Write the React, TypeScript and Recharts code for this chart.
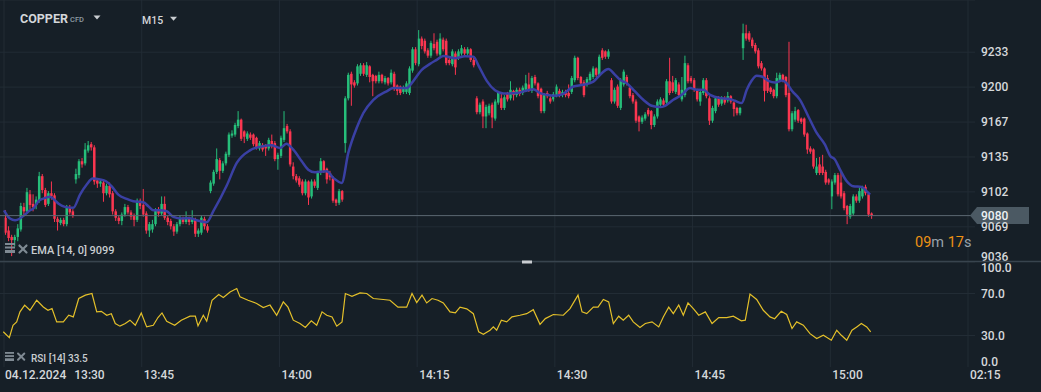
import React from 'react';
import { ComposedChart, LineChart, Bar, Line, XAxis, YAxis, CartesianGrid, ReferenceLine } from 'recharts';

// ---------- data ----------
const candleSeconds = 20; // one candle every 20 s, first candle starts 13:30:00
// [open, high, low, close]
const candles1: number[][] = [
  [9078, 9085, 9062, 9064], [9066, 9070, 9056, 9059], [9060, 9062, 9042, 9057], [9057, 9062, 9051, 9060],
  [9060, 9072, 9056, 9068], [9067, 9092, 9065, 9089], [9088, 9092, 9080, 9084], [9084, 9106, 9082, 9102],
  [9100, 9104, 9086, 9090], [9091, 9100, 9084, 9088], [9090, 9098, 9086, 9095], [9094, 9121, 9092, 9117],
  [9117, 9119, 9101, 9104], [9104, 9106, 9088, 9090], [9091, 9103, 9089, 9101], [9101, 9112, 9095, 9098],
  [9099, 9101, 9074, 9077], [9077, 9079, 9066, 9074], [9073, 9078, 9071, 9076], [9076, 9078, 9070, 9072],
  [9072, 9090, 9070, 9088], [9088, 9090, 9081, 9083], [9084, 9086, 9078, 9080],
];
const candles2: number[][] = [
  [9114, 9124, 9110, 9119], [9118, 9133, 9115, 9131], [9131, 9134, 9125, 9128], [9129, 9148, 9127, 9142],
  [9141, 9150, 9139, 9146], [9147, 9149, 9141, 9144], [9144, 9146, 9109, 9112], [9113, 9115, 9106, 9110],
  [9110, 9114, 9107, 9112], [9111, 9113, 9093, 9101], [9101, 9110, 9099, 9108], [9108, 9111, 9097, 9100],
  [9101, 9103, 9081, 9084], [9084, 9086, 9075, 9078], [9078, 9080, 9072, 9075], [9075, 9083, 9071, 9081],
  [9081, 9091, 9079, 9088], [9088, 9090, 9081, 9083], [9083, 9085, 9076, 9079], [9080, 9082, 9070, 9076],
  [9076, 9096, 9074, 9094], [9094, 9096, 9086, 9089], [9090, 9105, 9079, 9081], [9082, 9084, 9063, 9066],
  [9066, 9074, 9060, 9072], [9067, 9076, 9064, 9072], [9072, 9087, 9070, 9085], [9085, 9088, 9079, 9082],
  [9082, 9098, 9080, 9091], [9091, 9098, 9076, 9078], [9078, 9080, 9071, 9074], [9075, 9077, 9067, 9070],
  [9070, 9072, 9061, 9065], [9065, 9074, 9063, 9072], [9072, 9080, 9070, 9078], [9077, 9079, 9072, 9074],
  [9074, 9084, 9072, 9077], [9077, 9079, 9071, 9074], [9074, 9085, 9072, 9077], [9076, 9078, 9060, 9063],
  [9063, 9068, 9060, 9066], [9064, 9080, 9062, 9078], [9077, 9079, 9067, 9070], [9070, 9072, 9064, 9066],
];
const candles3: number[][] = [
  [9103, 9113, 9101, 9111], [9110, 9123, 9108, 9121], [9121, 9143, 9119, 9133], [9132, 9134, 9114, 9122],
  [9122, 9131, 9120, 9129], [9129, 9140, 9127, 9138], [9137, 9158, 9135, 9156], [9155, 9160, 9153, 9157],
  [9156, 9167, 9154, 9165], [9164, 9178, 9162, 9170], [9170, 9171, 9150, 9152], [9159, 9160, 9148, 9154],
  [9152, 9159, 9150, 9157], [9156, 9158, 9151, 9153], [9156, 9157, 9145, 9147], [9153, 9154, 9142, 9144],
  [9143, 9150, 9141, 9148], [9146, 9148, 9140, 9142], [9146, 9147, 9136, 9143], [9143, 9153, 9141, 9151],
  [9150, 9156, 9143, 9145], [9148, 9150, 9131, 9133], [9133, 9139, 9123, 9137], [9136, 9155, 9134, 9153],
  [9151, 9178, 9149, 9162], [9164, 9166, 9157, 9159], [9159, 9161, 9126, 9128], [9126, 9130, 9114, 9117],
  [9117, 9119, 9111, 9113], [9115, 9117, 9107, 9109], [9112, 9114, 9099, 9101], [9101, 9114, 9099, 9112],
  [9112, 9113, 9090, 9097], [9098, 9114, 9096, 9112], [9112, 9114, 9106, 9108], [9106, 9122, 9104, 9120],
  [9120, 9134, 9118, 9131], [9131, 9132, 9120, 9122], [9124, 9125, 9110, 9114], [9120, 9122, 9113, 9116],
  [9115, 9117, 9092, 9094], [9095, 9096, 9089, 9092], [9092, 9105, 9090, 9103], [9103, 9104, 9093, 9095],
];
const candles4: number[][] = [
  [9148, 9192, 9139, 9190], [9190, 9214, 9188, 9212], [9213, 9215, 9183, 9203], [9205, 9207, 9200, 9202],
  [9204, 9222, 9202, 9220], [9213, 9223, 9211, 9221], [9221, 9223, 9211, 9213], [9212, 9224, 9210, 9221],
  [9220, 9221, 9205, 9210], [9212, 9213, 9192, 9206], [9211, 9212, 9204, 9206], [9206, 9215, 9204, 9212],
  [9212, 9213, 9204, 9206], [9205, 9211, 9203, 9209], [9209, 9210, 9202, 9204], [9205, 9217, 9203, 9214],
  [9213, 9215, 9197, 9199], [9202, 9203, 9193, 9197], [9201, 9202, 9193, 9195], [9196, 9202, 9194, 9200],
  [9196, 9206, 9194, 9204], [9195, 9220, 9193, 9218], [9216, 9238, 9214, 9236], [9236, 9238, 9221, 9223],
  [9222, 9254, 9220, 9246], [9246, 9248, 9236, 9239], [9244, 9246, 9232, 9234], [9235, 9237, 9228, 9230],
  [9230, 9244, 9228, 9242], [9241, 9251, 9235, 9237], [9243, 9245, 9230, 9232], [9231, 9251, 9229, 9246],
  [9245, 9247, 9234, 9236], [9244, 9246, 9221, 9223], [9226, 9228, 9221, 9223], [9222, 9236, 9220, 9234],
  [9232, 9234, 9212, 9219], [9228, 9236, 9226, 9234], [9232, 9240, 9230, 9237], [9236, 9238, 9230, 9232],
  [9232, 9238, 9230, 9236], [9236, 9237, 9224, 9226], [9226, 9228, 9219, 9221],
];
const candles5: number[][] = [
  [9190, 9192, 9175, 9177], [9177, 9186, 9175, 9184], [9187, 9189, 9162, 9173], [9173, 9184, 9162, 9182],
  [9176, 9185, 9174, 9183], [9184, 9186, 9162, 9172], [9171, 9189, 9169, 9187], [9186, 9197, 9184, 9195],
  [9190, 9194, 9179, 9181], [9181, 9193, 9179, 9191], [9195, 9196, 9187, 9189], [9190, 9206, 9188, 9198],
  [9197, 9198, 9188, 9193], [9193, 9200, 9191, 9198], [9198, 9200, 9192, 9194], [9195, 9202, 9193, 9200],
  [9198, 9212, 9196, 9204], [9203, 9214, 9196, 9198], [9197, 9211, 9195, 9209], [9210, 9212, 9202, 9204],
  [9204, 9205, 9190, 9192], [9199, 9200, 9176, 9178], [9178, 9195, 9176, 9193], [9195, 9197, 9190, 9192],
  [9190, 9192, 9185, 9187], [9189, 9196, 9187, 9194], [9193, 9203, 9191, 9201], [9197, 9199, 9191, 9193],
  [9193, 9198, 9191, 9196], [9196, 9198, 9191, 9193], [9195, 9203, 9190, 9192], [9196, 9211, 9194, 9209],
  [9207, 9230, 9205, 9228], [9228, 9229, 9207, 9209], [9210, 9211, 9202, 9204], [9205, 9207, 9191, 9193],
  [9203, 9210, 9201, 9208], [9207, 9215, 9205, 9213], [9210, 9220, 9208, 9218], [9218, 9219, 9210, 9212],
  [9212, 9231, 9210, 9229], [9235, 9237, 9226, 9228], [9234, 9235, 9227, 9229], [9229, 9236, 9227, 9234],
];
const candles6: number[][] = [
  [9207, 9209, 9185, 9187], [9187, 9200, 9185, 9198], [9201, 9203, 9181, 9183], [9181, 9209, 9179, 9207],
  [9203, 9217, 9201, 9215], [9210, 9212, 9202, 9204], [9200, 9201, 9190, 9192], [9193, 9195, 9185, 9187],
  [9187, 9189, 9167, 9169], [9173, 9174, 9159, 9168], [9168, 9174, 9166, 9172], [9171, 9177, 9169, 9175],
  [9179, 9181, 9173, 9175], [9178, 9179, 9161, 9165], [9165, 9175, 9163, 9173], [9173, 9189, 9171, 9187],
  [9184, 9191, 9182, 9189], [9188, 9190, 9182, 9184], [9186, 9208, 9184, 9206], [9206, 9228, 9193, 9195],
  [9205, 9211, 9195, 9197], [9196, 9209, 9194, 9207], [9203, 9205, 9191, 9193], [9189, 9210, 9187, 9198],
  [9193, 9230, 9191, 9223], [9221, 9223, 9204, 9206], [9209, 9211, 9204, 9206], [9207, 9209, 9196, 9198],
  [9198, 9199, 9187, 9189], [9187, 9198, 9183, 9196], [9195, 9209, 9193, 9207], [9207, 9209, 9190, 9192],
  [9190, 9192, 9165, 9169], [9169, 9183, 9167, 9181], [9178, 9192, 9176, 9190], [9190, 9192, 9182, 9184],
  [9185, 9192, 9183, 9190], [9190, 9192, 9184, 9186], [9188, 9196, 9186, 9192], [9192, 9193, 9185, 9187],
  [9186, 9187, 9173, 9180], [9181, 9182, 9174, 9176], [9176, 9182, 9174, 9181],
];
const candles7: number[][] = [
  [9237, 9260, 9226, 9251], [9251, 9259, 9244, 9246], [9251, 9253, 9243, 9245], [9245, 9247, 9237, 9239],
  [9240, 9242, 9232, 9234], [9235, 9237, 9218, 9220], [9223, 9225, 9216, 9218], [9218, 9219, 9187, 9197],
  [9209, 9212, 9195, 9197], [9200, 9201, 9194, 9196], [9198, 9199, 9190, 9192], [9192, 9214, 9190, 9209],
  [9207, 9214, 9205, 9212], [9212, 9213, 9205, 9207], [9210, 9211, 9191, 9193], [9195, 9243, 9159, 9161],
  [9161, 9178, 9159, 9176], [9170, 9182, 9168, 9178], [9179, 9180, 9167, 9169], [9171, 9172, 9166, 9168],
  [9171, 9172, 9154, 9156], [9157, 9158, 9138, 9142], [9143, 9145, 9138, 9140], [9142, 9143, 9124, 9126],
  [9120, 9134, 9118, 9126], [9128, 9135, 9118, 9120], [9126, 9137, 9118, 9120], [9121, 9123, 9109, 9111],
  [9114, 9115, 9109, 9111], [9098, 9114, 9086, 9112], [9111, 9120, 9109, 9118], [9118, 9120, 9098, 9100],
  [9111, 9121, 9096, 9098], [9101, 9103, 9085, 9087], [9089, 9090, 9072, 9081], [9079, 9091, 9077, 9089],
  [9082, 9100, 9080, 9098], [9098, 9100, 9092, 9094], [9094, 9106, 9092, 9103], [9098, 9108, 9096, 9106],
  [9107, 9109, 9099, 9101], [9100, 9101, 9079, 9081], [9082, 9083, 9077, 9080],
];

// EMA(14) readings: [minutes after 13:30, value]
const emaPoints: number[][] = [
  [0, 9085], [0.65, 9077.3], [1.2, 9075.7], [1.74, 9077.3], [2.29, 9081], [2.83, 9085], [3.19, 9086.6],
  [3.74, 9093.4], [4.28, 9096], [5.01, 9097.6], [5.37, 9095.7], [5.91, 9091.3], [6.64, 9088.2], [7.55, 9087.3],
  [8.28, 9099.7], [9.01, 9109.1], [9.66, 9114.7], [10.46, 9113.8], [11.11, 9112.2], [11.73, 9107.5],
  [12.45, 9099.7], [13.36, 9095.7], [14.08, 9093.5], [15.17, 9092.5], [15.72, 9088.8], [16.26, 9085],
  [16.99, 9085], [17.72, 9084.1], [18.44, 9078.9], [19.36, 9077.3], [20.26, 9077.6], [20.99, 9075.7],
  [22.08, 9073.8], [22.8, 9084.1], [24.26, 9108.2], [25.35, 9129.4], [26.79, 9141.2], [28.07, 9144.9],
  [29.16, 9145.9], [30.06, 9143.4], [30.75, 9147.4], [31.51, 9141.8], [32.43, 9130.9], [33.14, 9123.1],
  [33.87, 9120.6], [35.15, 9121.5], [35.87, 9115.4], [36.78, 9110.7], [37.5, 9138.8], [38.42, 9162.4],
  [39.14, 9176.2], [40.23, 9188.6], [41.68, 9196.6], [42.4, 9199.6], [43.86, 9199.6], [44.41, 9204.3],
  [45.5, 9216.7], [46.4, 9222.3], [47.13, 9226.1], [47.85, 9229.8], [49.12, 9227.6], [50.21, 9229.5],
  [51.12, 9229.1], [51.74, 9219.8], [52.58, 9206.4], [53.48, 9197.5], [54.39, 9194.5], [55.85, 9194.9],
  [56.75, 9196.8], [57.65, 9198.6], [58.38, 9194.9], [59.11, 9193.3], [60.02, 9192.4], [60.92, 9194.2],
  [62.01, 9201.1], [63.1, 9202.7], [64.19, 9205.7], [65.1, 9213.6], [65.82, 9217.4], [66.55, 9212],
  [67.1, 9207.3], [67.83, 9204.2], [68.73, 9196.4], [69.63, 9188.6], [70.55, 9183], [71.45, 9181.8],
  [72, 9183], [72.9, 9188.6], [73.82, 9193.3], [74.72, 9199.6], [75.45, 9198], [76.17, 9198], [76.9, 9193.3],
  [77.99, 9190.2], [78.89, 9189.5], [79.62, 9187.7], [80.35, 9185.5], [80.9, 9198], [81.44, 9206.7],
  [81.98, 9211.1], [82.53, 9210.4], [83.25, 9206.4], [83.98, 9204.8], [84.71, 9206.7], [85.25, 9204.3],
  [85.8, 9197.3], [86.7, 9188.6], [87.61, 9173], [88.52, 9157.5], [89.42, 9146.5], [89.97, 9136.2],
  [90.51, 9132.5], [91.06, 9123.1], [91.79, 9112.2], [92.51, 9107.5], [93.42, 9106.9], [93.97, 9102.8],
  [94.33, 9099.7],
];

// RSI(14) readings: [minutes after 13:30, value]
const rsiPoints: number[][] = [
  [-0.08, 33.6], [0.58, 28], [0.98, 39.8], [1.38, 43], [1.74, 52.5], [2.25, 58.9], [2.83, 54], [3.56, 63.6],
  [4.28, 57.2], [4.79, 54], [5.23, 55.7], [5.74, 43], [6.46, 43], [7.05, 49.3], [7.55, 47.7], [8.14, 65.2],
  [8.86, 68.4], [9.58, 70], [10.1, 52.5], [10.6, 53], [11.19, 49.3], [11.69, 50.8], [12.12, 41.4], [12.63, 38.9],
  [13.21, 41.4], [13.72, 44.6], [14.3, 39.8], [14.95, 51.5], [15.54, 38.2], [16.26, 39.8], [16.77, 47.1],
  [17.21, 51.5], [17.72, 43.6], [18.59, 39.8], [19.31, 44.6], [20.26, 48.4], [20.84, 48.4], [21.13, 39.2],
  [21.71, 49.3], [22.08, 43.6], [22.66, 63.6], [23.39, 69], [23.89, 66.2], [24.62, 71.5], [25.35, 74.7],
  [25.71, 66.8], [26.58, 63.6], [27.52, 60.5], [28.24, 56.7], [28.97, 59], [29.7, 49.3], [30.42, 62],
  [30.93, 57], [31.51, 44.6], [32.24, 41.4], [32.82, 37.6], [33.47, 44], [34.06, 39.8], [34.64, 52.5],
  [35.15, 49.3], [35.73, 47.7], [36.24, 38.9], [36.82, 43], [37.18, 70], [37.9, 67.4], [38.78, 70.6],
  [39.51, 70], [40.22, 65.2], [41.31, 64.3], [42.04, 63.6], [42.91, 57], [43.86, 57], [44.44, 70],
  [44.95, 61.4], [45.53, 68.4], [46.04, 61], [46.62, 65.2], [47.27, 63.6], [47.85, 61], [48.58, 52.5],
  [49.16, 51.5], [49.67, 57], [50.4, 55.4], [51.12, 50.8], [51.7, 33.6], [52.21, 31.2], [52.94, 35],
  [53.3, 38.2], [53.66, 35], [54.17, 44.6], [54.75, 43], [55.33, 47.7], [56.2, 49.3], [56.93, 50.8],
  [57.65, 54.6], [58.38, 40.6], [58.96, 46.1], [59.83, 50], [60.92, 49.3], [61.65, 55.6], [62.52, 68.4],
  [62.96, 52.5], [63.47, 50.8], [64.19, 57], [64.7, 57], [65.28, 64.3], [65.86, 62], [66.37, 41.4],
  [66.95, 48.4], [67.45, 44.6], [68.04, 49.3], [68.54, 43], [69.27, 37.6], [69.85, 41.4], [70.58, 43],
  [71.31, 38.2], [71.81, 47.7], [72.4, 57], [72.9, 50.8], [73.49, 59], [73.99, 49.3], [74.5, 61],
  [75.08, 55.6], [75.67, 49.3], [76.39, 52.5], [77.12, 41.4], [77.85, 47.1], [78.72, 47.1], [79.44, 48.4],
  [80.31, 44], [80.74, 44.6], [81.25, 69.4], [81.98, 64.3], [82.7, 54], [83.43, 47.7], [83.94, 46],
  [84.66, 53], [85.25, 50], [85.83, 36.6], [86.34, 43], [87.06, 39.8], [87.79, 31.8], [88.52, 27.1],
  [89.24, 30.2], [90.11, 25.5], [90.7, 35], [91.2, 30.2], [91.79, 25.5], [92.36, 35], [92.88, 38.2],
  [93.38, 41.4], [93.97, 38.2], [94.4, 33.5],
];

const timeTicks = [0, 15, 30, 45, 60, 75, 90, 105];
const timeLabels = ['13:30', '13:45', '14:00', '14:15', '14:30', '14:45', '15:00', '02:15'];
const dateLabel = '04.12.2024';
const priceTicks = [9036.75, 9069.5, 9102.25, 9135, 9167.75, 9200.5, 9233.25];
const rsiTicks = [0, 30, 70, 100];
const rsiLevels = [30, 70];
const countdown = { min: '09', sec: '17' };

// ---------- derived ----------
const allCandles = [...candles1, ...candles2, ...candles3, ...candles4, ...candles5, ...candles6, ...candles7];
const candleData = allCandles.map((c, k) => ({
  t: ((k + 0.5) * candleSeconds) / 60,
  o: c[0], h: c[1], l: c[2], c: c[3],
}));
const emaData = emaPoints.map(([t, v]) => ({ t, v }));
const rsiData = rsiPoints.map(([t, v]) => ({ t, v }));
const lastPrice = allCandles[allCandles.length - 1][3];
const emaLast = Math.floor(emaPoints[emaPoints.length - 1][1]);
const rsiLast = rsiPoints[rsiPoints.length - 1][1].toFixed(1);

// ---------- style ----------
const BG = '#161f27';
const GRID = '#222c35';
const GREEN = '#26be7a';
const RED = '#fb3650';
const EMA_COLOR = '#3a40a4';
const RSI_COLOR = '#e4c02a';
const AXIS_TEXT = '#d5d8db';
const FONT = 'Roboto, "Noto Sans", sans-serif';
const X_DOMAIN: [number, number] = [-0.436, 105.76];
const PRICE_DOMAIN: [number, number] = [9036.5, 9282.2];

const Candle = (props: any) => {
  const { x, y, width, height, payload } = props;
  if (x == null || y == null || !payload) return null;
  const { o, h, l, c } = payload;
  const top = Math.min(y, y + height);
  const hpx = Math.abs(height);
  const ratio = hpx / (h - l);
  const py = (v: number) => top + (h - v) * ratio;
  const cx = x + width / 2;
  const color = c >= o ? GREEN : RED;
  const bTop = py(Math.max(o, c));
  const bBot = py(Math.min(o, c));
  return (
    <g>
      <line x1={cx} x2={cx} y1={top} y2={top + hpx} stroke={color} strokeWidth={1} />
      <rect x={cx - 1.25} y={bTop} width={2.5} height={Math.max(1, bBot - bTop)} fill={color} />
    </g>
  );
};

const PriceTick = (props: any) => {
  const { x, y, payload } = props;
  const dy = y > 255 ? -5 : 0;
  return (
    <text x={x} y={y + dy} dy="0.355em" fill={AXIS_TEXT} fontSize={12} fontWeight={500} fontFamily={FONT} textAnchor="start">
      {Math.floor(payload.value)}
    </text>
  );
};

const RsiTick = (props: any) => {
  const { x, y, payload } = props;
  const v = payload.value;
  const dy = v === 100 ? 6 : v === 0 ? -5 : 0;
  return (
    <text x={x} y={y + dy} dy="0.355em" fill={AXIS_TEXT} fontSize={12} fontWeight={500} fontFamily={FONT} textAnchor="start">
      {v.toFixed(1)}
    </text>
  );
};

const TimeTick = (props: any) => {
  const { x, y, payload } = props;
  const i = timeTicks.indexOf(payload.value);
  if (i < 0) return null;
  return (
    <text x={x + (i === 0 ? 1 : 2)} y={y} dy="0.355em" fill={AXIS_TEXT} fontSize={12} fontWeight={500} fontFamily={FONT} textAnchor="start">
      {i === 0 ? (
        <>
          <tspan>{dateLabel}</tspan>
          <tspan dx={8}>{timeLabels[i]}</tspan>
        </>
      ) : (
        timeLabels[i]
      )}
    </text>
  );
};

const PriceTag = (props: any) => {
  const vb = props.viewBox;
  if (!vb) return null;
  const yy = vb.y;
  const r = vb.x + vb.width;
  const pts = `${r - 5},${yy} ${r + 2},${yy - 8.5} ${r + 54},${yy - 8.5} ${r + 54},${yy + 8.5} ${r + 2},${yy + 8.5}`;
  return (
    <g>
      <polygon points={pts} fill="#4b5963" />
      <text x={r + 6} y={yy} dy="0.355em" fill="#eef1f3" fontSize={12} fontWeight={500} fontFamily={FONT}>
        {lastPrice}
      </text>
    </g>
  );
};

const ListIcon = ({ x, y, s }: { x: number; y: number; s: number }) => (
  <g fill="#7f8a93">
    <rect x={x} y={y} width={10 * s} height={2 * s} />
    <rect x={x} y={y + 3.5 * s} width={10 * s} height={2 * s} />
    <rect x={x} y={y + 7 * s} width={10 * s} height={3 * s} />
  </g>
);
const CloseIcon = ({ x, y, s }: { x: number; y: number; s: number }) => (
  <g stroke="#7f8a93" strokeWidth={2.2 * s} strokeLinecap="round">
    <line x1={x} y1={y} x2={x + 7 * s} y2={y + 7 * s} />
    <line x1={x + 7 * s} y1={y} x2={x} y2={y + 7 * s} />
  </g>
);

export default function App() {
  return (
    <div style={{ position: 'absolute', left: 0, top: 0, width: 1041, height: 392, background: BG, overflow: 'hidden', fontFamily: FONT }}>
      <style>{'svg.recharts-surface{overflow:visible}'}</style>
      <div style={{ position: 'absolute', left: 0, top: 0 }}>
        <ComposedChart width={1041} height={262} data={candleData} margin={{ top: 0, right: 0, bottom: 0, left: 0 }}>
          <CartesianGrid vertical={false} stroke={GRID} />
          <XAxis type="number" dataKey="t" domain={X_DOMAIN} allowDataOverflow hide ticks={timeTicks} />
          <YAxis
            orientation="right"
            width={66}
            domain={PRICE_DOMAIN}
            allowDataOverflow
            ticks={priceTicks}
            interval={0}
            tick={<PriceTick />}
            tickLine={false}
            axisLine={false}
            tickSize={4}
            tickMargin={2}
          />
          {timeTicks.map((t) => (
            <ReferenceLine key={'vx' + t} x={t} stroke={GRID} />
          ))}
          <Bar dataKey={(d: any) => [d.l, d.h]} shape={<Candle />} barSize={3} isAnimationActive={false} />
          <Line
            data={emaData}
            dataKey="v"
            type="monotone"
            stroke={EMA_COLOR}
            strokeWidth={2.5}
            dot={false}
            activeDot={false}
            isAnimationActive={false}
          />
          <ReferenceLine y={lastPrice} stroke="#5c6872" strokeWidth={1} label={(p: any) => <PriceTag {...p} />} />
        </ComposedChart>
      </div>
      <div style={{ position: 'absolute', left: 0, top: 262 }}>
        <LineChart width={1041} height={130} data={rsiData} margin={{ top: 0, right: 0, bottom: 0, left: 0 }}>
          <XAxis
            type="number"
            dataKey="t"
            domain={X_DOMAIN}
            allowDataOverflow
            ticks={timeTicks}
            interval={0}
            tick={<TimeTick />}
            tickLine={false}
            axisLine={false}
            height={25}
            tickSize={6}
            tickMargin={2}
          />
          <YAxis
            orientation="right"
            width={66}
            domain={[0, 100]}
            allowDataOverflow
            ticks={rsiTicks}
            interval={0}
            tick={<RsiTick />}
            tickLine={false}
            axisLine={false}
            tickSize={4}
            tickMargin={2}
          />
          {timeTicks.map((t) => (
            <ReferenceLine key={'rx' + t} x={t} stroke={GRID} />
          ))}
          {rsiLevels.map((v) => (
            <ReferenceLine key={'ry' + v} y={v} stroke={GRID} />
          ))}
          <Line
            dataKey="v"
            type="linear"
            stroke={RSI_COLOR}
            strokeWidth={1.2}
            dot={false}
            activeDot={false}
            isAnimationActive={false}
          />
        </LineChart>
      </div>
      <svg width={1041} height={392} style={{ position: 'absolute', left: 0, top: 0, pointerEvents: 'none' }}>
        <line x1={0} x2={1041} y1={261.5} y2={261.5} stroke="#38444e" strokeWidth={1.5} />
        <rect x={522} y={260.5} width={10} height={3} fill="#c9cdd1" />
        <text x={20} y={23.3} fontSize={12.5} fontWeight={700} fill="#d3d6d9" fontFamily={FONT}>COPPER</text>
        <text x={70} y={21.7} fontSize={7.5} fontWeight={500} fill="#8e9aa3" fontFamily={FONT}>CFD</text>
        <polygon points="93.5,15.5 100.5,15.5 97,19.5" fill="#c9cdd1" />
        <text x={142} y={24} fontSize={10.5} fontWeight={500} fill="#d3d6d9" fontFamily={FONT}>M15</text>
        <polygon points="170,16.8 177,16.8 173.5,20.8" fill="#c9cdd1" />
        <ListIcon x={5} y={243} s={1} />
        <CloseIcon x={19.5} y={245.5} s={1} />
        <text x={31} y={254} fontSize={11} fontWeight={500} fill="#c9cdd0" fontFamily={FONT}>
          {`EMA [14, 0] ${emaLast}`}
        </text>
        <ListIcon x={5} y={352} s={0.9} />
        <CloseIcon x={18} y={353.5} s={0.9} />
        <text x={31} y={361.5} fontSize={10} fontWeight={500} fill="#c9cdd0" fontFamily={FONT}>
          {`RSI [14] ${rsiLast}`}
        </text>
        <text x={915} y={246.7} fontSize={14.5} fontFamily={FONT}>
          <tspan fill="#ee9214">{countdown.min}</tspan>
          <tspan fill="#98a2aa">m </tspan>
          <tspan fill="#ee9214">{countdown.sec}</tspan>
          <tspan fill="#98a2aa">s</tspan>
        </text>
      </svg>
    </div>
  );
}
